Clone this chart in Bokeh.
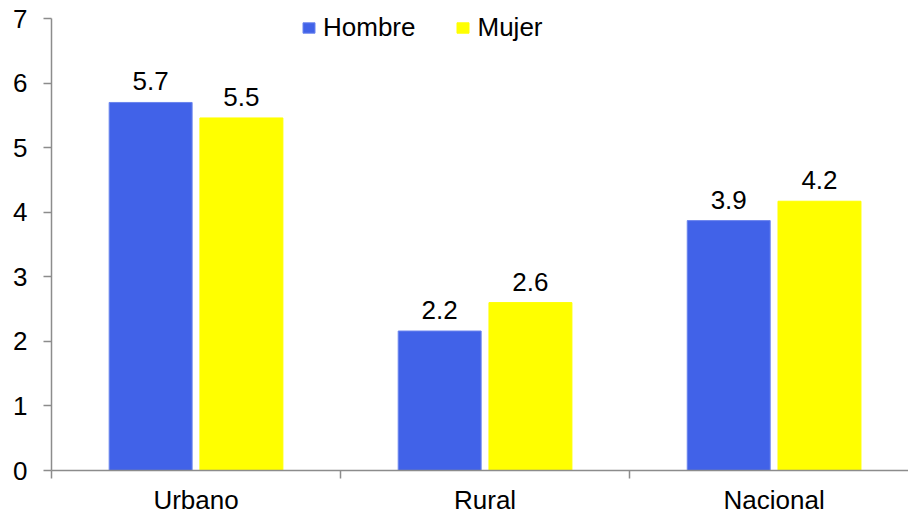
from bokeh.plotting import figure
from bokeh.models import ColumnDataSource, FixedTicker, Legend, LegendItem, Range1d
from bokeh.embed import file_html
from bokeh.resources import INLINE
from bokeh.core.properties import value

categories = ["Urbano", "Rural", "Nacional"]
hombre = [5.7, 2.16, 3.87]
mujer = [5.46, 2.6, 4.17]
y_ticks = [0, 1, 2, 3, 4, 5, 6, 7]

FONT = "Liberation Sans"
BLUE = "#4162E8"
YELLOW = "#FFFF00"
AXIS = "#8C8C8C"

centers = [i + 0.5 for i in range(len(categories))]
off = 0.157
bw = 0.287

src_h = ColumnDataSource(dict(x=[c - off for c in centers], top=hombre,
                              lab=[f"{v:.1f}" for v in hombre]))
src_m = ColumnDataSource(dict(x=[c + off for c in centers], top=mujer,
                              lab=[f"{v:.1f}" for v in mujer]))

p = figure(width=908, height=517, output_backend="svg", toolbar_location=None,
           x_range=Range1d(0, 2.965), y_range=Range1d(0, 7.279),
           min_border_left=51, min_border_right=0, min_border_top=0, min_border_bottom=47)
p.outline_line_color = None
p.xgrid.visible = False
p.ygrid.visible = False

rh = p.vbar(x="x", top="top", width=bw, source=src_h, fill_color=BLUE, line_color="#6A84EE", line_width=1)
rm = p.vbar(x="x", top="top", width=bw, source=src_m, fill_color=YELLOW, line_color=YELLOW, line_width=1)

for s in (src_h, src_m):
    p.text(x="x", y="top", text="lab", source=s, text_align="center", text_baseline="bottom",
           y_offset=-12, text_font=value(FONT), text_font_size="26px", text_color="#000000")

# x axis
p.xaxis.ticker = FixedTicker(ticks=centers, minor_ticks=[0, 1, 2, 3])
p.xaxis.major_label_overrides = {c: n for c, n in zip(centers, categories)}
p.xaxis.major_tick_out = 0
p.xaxis.major_tick_in = 0
p.xaxis.minor_tick_out = 8
p.xaxis.minor_tick_in = 0
p.xaxis.minor_tick_line_color = AXIS
p.xaxis.minor_tick_line_width = 1.5
p.xaxis.axis_line_color = AXIS
p.xaxis.axis_line_width = 1.5
p.xaxis.major_label_text_font = FONT
p.xaxis.major_label_text_font_size = "26px"
p.xaxis.major_label_text_color = "#000000"
p.xaxis.major_label_standoff = 6

# y axis
p.yaxis.ticker = FixedTicker(ticks=y_ticks, minor_ticks=[])
p.yaxis.bounds = (0, 7)
p.yaxis.major_tick_out = 8
p.yaxis.major_tick_in = 0
p.yaxis.major_tick_line_color = AXIS
p.yaxis.major_tick_line_width = 1.5
p.yaxis.axis_line_color = AXIS
p.yaxis.axis_line_width = 1.5
p.yaxis.major_label_text_font = FONT
p.yaxis.major_label_text_font_size = "26px"
p.yaxis.major_label_text_color = "#000000"
p.yaxis.major_label_standoff = 16

legend = Legend(items=[LegendItem(label="Hombre", renderers=[rh]),
                       LegendItem(label="Mujer", renderers=[rm])],
                orientation="horizontal", location=(250, 427),
                glyph_width=15, glyph_height=13, label_standoff=7, spacing=40,
                padding=0, margin=0, border_line_color=None, background_fill_alpha=0,
                label_text_font=FONT, label_text_font_size="26px", label_text_color="#000000")
p.add_layout(legend, "center")

open("out.html", "w").write(file_html(p, INLINE))
